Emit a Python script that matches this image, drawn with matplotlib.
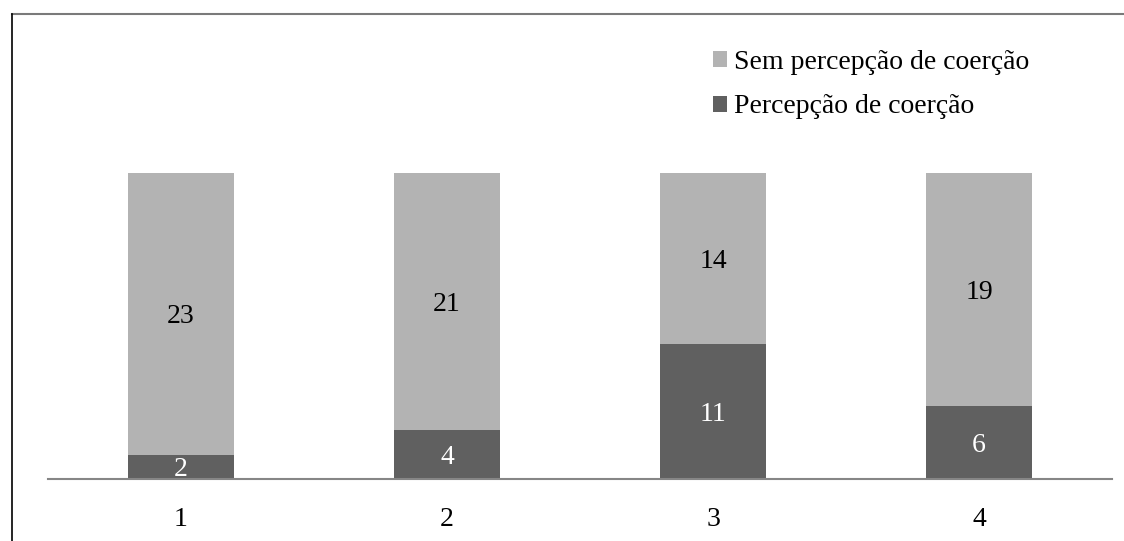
import matplotlib.pyplot as plt
from matplotlib.lines import Line2D
import numpy as np

categories = ["1", "2", "3", "4"]
coercao = [2, 4, 11, 6]
sem_coercao = [23, 21, 14, 19]

W, H = 1124, 541
fig = plt.figure(figsize=(W / 100, H / 100), dpi=100)
plt.rcParams["font.family"] = ["Liberation Serif", "DejaVu Serif"]

# axes placed in pixel terms: x from 48 to 1112, baseline at y=479
ax = fig.add_axes([48 / W, (H - 479) / H, (1112 - 48) / W, (479 - 112) / H])
x = np.arange(len(categories))
dark = "#606060"
light = "#b3b3b3"
b1 = ax.bar(x, coercao, width=0.4, color=dark, label="Percepção de coerção")
b2 = ax.bar(x, sem_coercao, width=0.4, bottom=coercao, color=light,
            label="Sem percepção de coerção")

for xi, v in zip(x, coercao):
    ax.text(xi, v / 2, str(v), ha="center", va="center_baseline",
            color="white", fontsize=20)
for xi, v, b in zip(x, sem_coercao, coercao):
    ax.text(xi, b + v / 2, str(v), ha="center", va="center_baseline",
            color="black", fontsize=20)

ax.set_xlim(-0.5, 3.5)
ax.set_ylim(0, 30)
ax.set_xticks(x)
ax.set_xticklabels(categories, fontsize=20)
ax.tick_params(axis="x", length=0, pad=20)
ax.set_yticks([])
for s in ["top", "right", "left"]:
    ax.spines[s].set_visible(False)
ax.spines["bottom"].set_color("#868686")
ax.spines["bottom"].set_linewidth(1.5)

leg = fig.legend(handles=[b2, b1], loc="upper left",
                 bbox_to_anchor=(688 / W, 1 - 25 / H), frameon=False,
                 fontsize=20, handlelength=0.5, handleheight=0.5,
                 handletextpad=0.25, labelspacing=0.7)

# frame lines around the figure
fig.add_artist(Line2D([12 / W, 1], [1 - 14 / H, 1 - 14 / H], color="#7a7a7a",
                      lw=1.5, transform=fig.transFigure))
fig.add_artist(Line2D([12 / W, 12 / W], [0, 1 - 14 / H], color="black",
                      lw=1.2, transform=fig.transFigure))

fig.savefig("out.png", dpi=100)
